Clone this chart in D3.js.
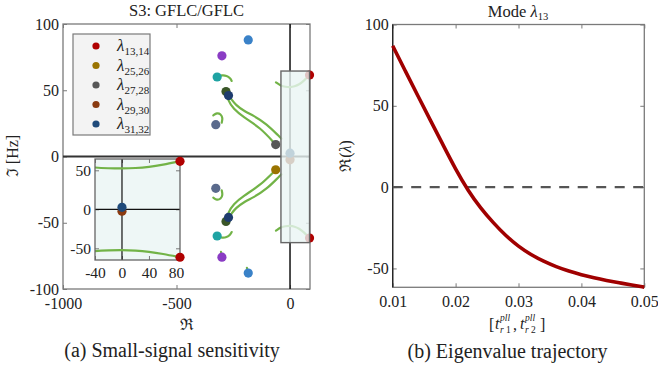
<!doctype html>
<html>
<head>
<meta charset="utf-8">
<script src="https://cdn.jsdelivr.net/npm/d3@7"></script>
<style>
  body { margin: 0; background: #fff; }
  svg text { fill: #222; }
</style>
</head>
<body>
<svg id="fig" width="658" height="373" style="font-family: 'Liberation Serif', 'DejaVu Serif', serif"></svg>
<script>
// ---------- data: (a) small-signal sensitivity ----------
var modeNames  = ["13,14", "25,26", "27,28", "29,30", "31,32"];
var modeColors = ["#b00000", "#9a7400", "#575757", "#8a3a10", "#1f4a7a"];
// eigenvalues [Re, Im] for the legend modes
var mode1314 = [[86, 61.5], [86, -61.5]];
var mode2526 = [[-63, -10]];
var mode2728 = [[-63, 9]];
var mode2930 = [[0, -2.5]];
var mode3132 = [[0, 2.5]];
// other eigenvalues shown without a legend entry
var otherRe     = [-321, -321, -300, -300, -184, -184, -282, -282, -271, -271, -327, -327];
var otherIm     = [60, -60, 76, -76, 88, -88, 49, -49, 46, -46, 24, -24];
var otherColors = ["#1fa3a3", "#1fa3a3", "#8a3cc4", "#8a3cc4", "#3a82c8", "#3a82c8",
                   "#3a5628", "#3a5628", "#1e3c6e", "#1e3c6e", "#5a6a8c", "#5a6a8c"];
// sensitivity traces [Re, Im]
var traceA  = [[-282, 49], [-272, 42], [-250, 36], [-206, 29.7], [-132, 22], [-63, 9]];
var traceB  = [[-271, 46], [-262, 44], [-240, 39], [-200, 34], [-162, 31], [-103, 24.7], [-47, 15], [-38, 13.5]];
var traceC  = [[-282, -49], [-272, -42], [-250, -36], [-206, -29.7], [-132, -22], [-63, -10]];
var traceD  = [[-271, -46], [-262, -44], [-240, -39], [-200, -34], [-162, -31], [-103, -24.7], [-47, -15], [-38, -13.5]];
var arcTop  = [[-62, 56], [-40, 53.3], [-20, 52.6], [0, 52.3], [20, 52.8], [40, 54.3], [60, 57], [86, 61.5]];
var arcBot  = [[-62, -56], [-40, -53.3], [-20, -52.6], [0, -52.3], [20, -52.8], [40, -54.3], [60, -57], [86, -61.5]];
var tealTop = [[-321, 60], [-300, 61.5], [-279, 61], [-263, 59], [-257, 57]];
var tealBot = [[-321, -60], [-300, -61.5], [-279, -61], [-263, -59], [-257, -57]];
var slateTop = [[-338, 31], [-322, 33], [-305, 32], [-296, 29], [-301, 25.5]];
var slateBot = [[-338, -31], [-322, -33], [-305, -32], [-296, -29], [-301, -25.5]];
var tickPurp = [[-304, -72], [-300, -75]];
var tickBlue = [[-190, -84], [-186, -87]];

var xTicksA  = [-1000, -500, 0];
var yTicksA  = [-100, -50, 0, 50, 100];
var xTicksIn = [-40, 0, 40, 80];
var yTicksIn = [-50, 0, 50];
var zoomRe   = [-40, 86];
var zoomIm   = [-65, 64.5];

// ---------- data: (b) eigenvalue trajectory ----------
var tau = [0.010, 0.012, 0.014, 0.016, 0.018, 0.020, 0.022, 0.024, 0.026, 0.028, 0.030,
           0.032, 0.034, 0.036, 0.038, 0.040, 0.042, 0.044, 0.046, 0.048, 0.050];
var reLambda = [86.9, 71.5, 56.2, 41.0, 26.0, 11.0, -2.3, -13.0, -22.0, -30.0, -36.5,
                -41.6, -45.7, -49.0, -51.7, -53.9, -55.8, -57.4, -58.8, -60.2, -61.5];
var xTicksB = [0.01, 0.02, 0.03, 0.04, 0.05];
var yTicksB = [-50, 0, 50, 100];

var svg = d3.select("#fig");
var serif = "'Liberation Serif', 'DejaVu Serif', serif";
var fmt = function (d) { return String(d); };
var frameCol = "#7a7a7a";
var green = "#72b347";

function styleAxis(g, size) {
  g.attr("font-family", null);
  g.select(".domain").remove();
  g.selectAll(".tick line").attr("stroke", frameCol).attr("stroke-width", 1);
  g.selectAll(".tick text").attr("font-size", size).attr("fill", "#2a2a2a")
    .style("font-family", serif);
}

function frame(x, y, xt, yt, size, pads) {
  var x0 = x.range()[0], x1 = x.range()[1], y0 = y.range()[0], y1 = y.range()[1];
  var g = svg.append("g");
  g.append("g").attr("transform", "translate(0," + y0 + ")")
    .call(d3.axisBottom(x).tickValues(xt).tickSizeInner(-4).tickSizeOuter(0).tickPadding(pads[0]).tickFormat(fmt))
    .call(styleAxis, size);
  g.append("g").attr("transform", "translate(" + x0 + ",0)")
    .call(d3.axisLeft(y).tickValues(yt).tickSizeInner(-4).tickSizeOuter(0).tickPadding(pads[1]).tickFormat(fmt))
    .call(styleAxis, size);
  g.append("g").attr("transform", "translate(0," + y1 + ")")
    .call(d3.axisTop(x).tickValues(xt).tickSizeInner(-4).tickSizeOuter(0).tickFormat(""))
    .call(styleAxis, size);
  g.append("g").attr("transform", "translate(" + x1 + ",0)")
    .call(d3.axisRight(y).tickValues(yt).tickSizeInner(-4).tickSizeOuter(0).tickFormat(""))
    .call(styleAxis, size);
  return g;
}

// ================= (a) =================
var xA = d3.scaleLinear().domain([-1000, 88]).range([63, 310]);
var yA = d3.scaleLinear().domain([-100, 100]).range([289, 24]);
var lineA = d3.line().x(function (d) { return xA(d[0]); }).y(function (d) { return yA(d[1]); }).curve(d3.curveBasis);

frame(xA, yA, xTicksA, yTicksA, 16, [8.5, 4]);
svg.append("rect").attr("x", 63).attr("y", 24).attr("width", 247).attr("height", 265)
  .attr("fill", "none").attr("stroke", frameCol).attr("stroke-width", 1.3);

svg.append("line").attr("x1", 63).attr("x2", 310).attr("y1", yA(0)).attr("y2", yA(0))
  .attr("stroke", "#333").attr("stroke-width", 2);
svg.append("line").attr("x1", xA(0)).attr("x2", xA(0)).attr("y1", 24).attr("y2", 289)
  .attr("stroke", "#111").attr("stroke-width", 1.5);

var traces = [traceA, traceB, traceC, traceD, arcTop, arcBot, tealTop, tealBot, slateTop, slateBot, tickPurp, tickBlue];
svg.append("g").selectAll("path").data(traces).join("path")
  .attr("d", lineA).attr("fill", "none").attr("stroke", green).attr("stroke-width", 2.2).attr("stroke-linecap", "round");

var others = otherRe.map(function (r, i) { return { re: r, im: otherIm[i], c: otherColors[i] }; });
var modes = [mode2930, mode3132, mode2526, mode2728, mode1314];
var modeCol = [modeColors[3], modeColors[4], modeColors[1], modeColors[2], modeColors[0]];
var modePts = [];
modes.forEach(function (arr, k) {
  arr.forEach(function (p) { modePts.push({ re: p[0], im: p[1], c: modeCol[k] }); });
});
svg.append("g").selectAll("circle").data(others.concat(modePts)).join("circle")
  .attr("cx", function (d) { return xA(d.re); }).attr("cy", function (d) { return yA(d.im); })
  .attr("r", 4.6).attr("fill", function (d) { return d.c; });

// zoom window indicator (faded overlay)
svg.append("rect")
  .attr("x", xA(zoomRe[0])).attr("y", yA(zoomIm[1]))
  .attr("width", xA(zoomRe[1]) - xA(zoomRe[0])).attr("height", yA(zoomIm[0]) - yA(zoomIm[1]))
  .attr("fill", "#eaf5f4").attr("fill-opacity", 0.8).attr("stroke", "#666").attr("stroke-width", 1.4);

// legend
var leg = svg.append("g");
leg.append("rect").attr("x", 73).attr("y", 34).attr("width", 77).attr("height", 101)
  .attr("fill", "#f3f3f3").attr("stroke", frameCol).attr("stroke-width", 1.2);
modeNames.forEach(function (n, i) {
  var yy = 46 + i * 19.5;
  leg.append("circle").attr("cx", 96).attr("cy", yy).attr("r", 3.6).attr("fill", modeColors[i]);
  var t = leg.append("text").attr("x", 117).attr("y", yy + 5).attr("font-size", 17);
  t.append("tspan").attr("font-style", "italic").text("λ");
  t.append("tspan").attr("font-size", 11).attr("dy", 4).text(n);
});

// inset
var xI = d3.scaleLinear().domain(zoomRe).range([95, 180]);
var yI = d3.scaleLinear().domain(zoomIm).range([260, 159]);
var lineI = d3.line().x(function (d) { return xI(d[0]); }).y(function (d) { return yI(d[1]); }).curve(d3.curveBasis);
svg.append("rect").attr("x", 95).attr("y", 159).attr("width", 85).attr("height", 101)
  .attr("fill", "#eef7f6").attr("stroke", "none");
svg.append("defs").append("clipPath").attr("id", "clipI").append("rect")
  .attr("x", 95).attr("y", 159).attr("width", 85).attr("height", 101);
frame(xI, yI, xTicksIn, yTicksIn, 15.5, [6.5, 4]);
svg.append("line").attr("x1", 95).attr("x2", 180).attr("y1", yI(0)).attr("y2", yI(0)).attr("stroke", "#111").attr("stroke-width", 1.2);
svg.append("line").attr("x1", xI(0)).attr("x2", xI(0)).attr("y1", 159).attr("y2", 260).attr("stroke", "#111").attr("stroke-width", 1.2);
var gi = svg.append("g").attr("clip-path", "url(#clipI)");
gi.selectAll("path").data([arcTop, arcBot]).join("path")
  .attr("d", lineI).attr("fill", "none").attr("stroke", green).attr("stroke-width", 2.2);
svg.append("rect").attr("x", 95).attr("y", 159).attr("width", 85).attr("height", 101)
  .attr("fill", "none").attr("stroke", "#666").attr("stroke-width", 1.3);
svg.append("g").selectAll("circle").data(modePts.filter(function (d) {
    return d.re >= zoomRe[0] && d.re <= zoomRe[1] && d.im >= zoomIm[0] && d.im <= zoomIm[1];
  })).join("circle")
  .attr("cx", function (d) { return xI(d.re); }).attr("cy", function (d) { return yI(d.im); })
  .attr("r", 4.6).attr("fill", function (d) { return d.c; });

// titles and labels (a)
svg.append("text").attr("x", 186.5).attr("y", 16).attr("text-anchor", "middle").attr("font-size", 16.5).text("S3: GFLC/GFLC");
svg.append("text").attr("transform", "translate(18,156) rotate(-90)").attr("text-anchor", "middle").attr("font-size", 16).text("ℑ [Hz]");
svg.append("text").attr("x", 186.5).attr("y", 330).attr("text-anchor", "middle").attr("font-size", 16).text("ℜ");
svg.append("text").attr("x", 172).attr("y", 357).attr("text-anchor", "middle").attr("font-size", 20).text("(a) Small-signal sensitivity");

// ================= (b) =================
var xB = d3.scaleLinear().domain([0.01, 0.05]).range([392.7, 644.3]);
var yB = d3.scaleLinear().domain([-61.6, 100]).range([287.3, 24.5]);
frame(xB, yB, xTicksB, yTicksB, 16, [8.5, 4]);
svg.append("rect").attr("x", 392.7).attr("y", 24.5).attr("width", 251.6).attr("height", 262.8)
  .attr("fill", "none").attr("stroke", frameCol).attr("stroke-width", 1.3);
svg.append("line").attr("x1", 392.7).attr("x2", 392.7).attr("y1", 24.5).attr("y2", 287.3)
  .attr("stroke", "#222").attr("stroke-width", 1.3);
svg.append("line").attr("x1", 392.7).attr("x2", 644.3).attr("y1", yB(0)).attr("y2", yB(0))
  .attr("stroke", "#555").attr("stroke-width", 2.4).attr("stroke-dasharray", "10,8.5");
svg.append("path").datum(tau.map(function (t, i) { return [t, reLambda[i]]; }))
  .attr("d", d3.line().x(function (d) { return xB(d[0]); }).y(function (d) { return yB(d[1]); }).curve(d3.curveBasis))
  .attr("fill", "none").attr("stroke", "#a00000").attr("stroke-width", 3.6);

svg.append("text").attr("x", 518).attr("y", 17).attr("text-anchor", "middle").attr("font-size", 16.5)
  .call(function (t) {
    t.append("tspan").text("Mode ");
    t.append("tspan").attr("font-style", "italic").text("λ");
    t.append("tspan").attr("font-size", 10.5).attr("dy", 3).text("13");
  });
svg.append("text").attr("transform", "translate(351,156) rotate(-90)").attr("text-anchor", "middle").attr("font-size", 16)
  .call(function (t) {
    t.append("tspan").text("ℜ(");
    t.append("tspan").attr("font-style", "italic").text("λ");
    t.append("tspan").text(")");
  });
// x label [t_r1^pll, t_r2^pll]
var xl = svg.append("g").attr("font-size", 16);
function sym(x0, sub) {
  xl.append("text").attr("x", x0).attr("y", 329).attr("font-style", "italic").text("t");
  xl.append("text").attr("x", x0 + 5).attr("y", 321).attr("font-size", 9.5).attr("font-style", "italic").text("pll");
  xl.append("text").attr("x", x0 + 5).attr("y", 333).attr("font-size", 9.5).call(function (t) {
    t.append("tspan").attr("font-style", "italic").text("r");
    t.append("tspan").text(" " + sub);
  });
}
xl.append("text").attr("x", 489).attr("y", 330).text("[");
sym(495, "1");
xl.append("text").attr("x", 513).attr("y", 330).text(",");
sym(520, "2");
xl.append("text").attr("x", 540).attr("y", 330).text("]");

svg.append("text").attr("x", 507.5).attr("y", 358).attr("text-anchor", "middle").attr("font-size", 20).text("(b) Eigenvalue trajectory");
</script>
</body>
</html>
